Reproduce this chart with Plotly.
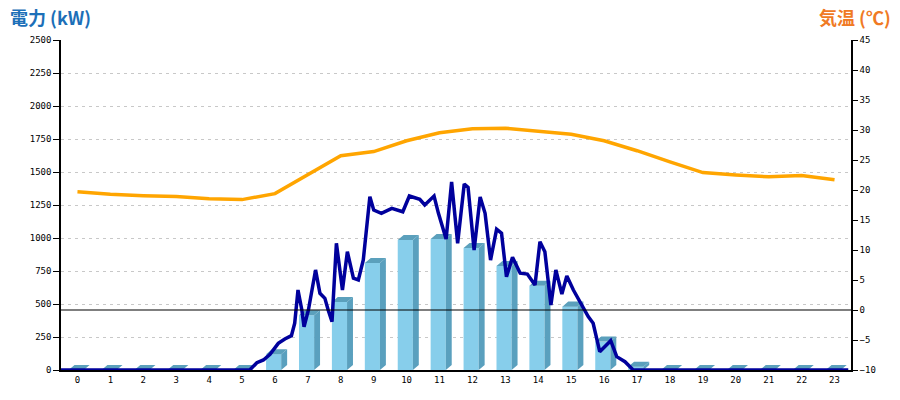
import plotly.graph_objects as go

# ---- data ----
hours = list(range(24))
hour_labels = [str(h) for h in hours]

# hourly generation (bars, left axis, kW)
bar_kw = [0, 0, 0, 0, 0, 0, 120, 414, 515, 811, 985, 992,
          924, 788, 639, 480, 215, 25, 0, 0, 0, 0, 0, 0]

# hourly temperature (orange line, right axis, degC)
temp_c = [19.7, 19.3, 19.05, 18.9, 18.55, 18.4, 19.4, 22.5, 25.7, 26.4, 28.2, 29.55,
          30.2, 30.3, 29.8, 29.3, 28.2, 26.55, 24.7, 22.9, 22.5, 22.2, 22.4, 21.7]

# instantaneous power (dark blue line), minutes since midnight and kW
power_min = [0, 344, 357, 369, 381, 396, 408, 420, 426, 432, 439, 443, 451, 464, 472,
             481, 487, 494, 502, 513, 522, 533, 542, 551, 563, 570, 584, 603, 623, 635,
             654, 663, 680, 688, 702, 712, 723, 735, 742, 753, 764, 773, 783, 794, 803,
             812, 823, 837, 850, 864, 873, 882, 893, 902, 913, 922, 934, 949, 961, 970,
             982, 1002, 1013, 1028, 1043, 1435]
power_kw = [0, 0, 55, 76, 119, 202, 235, 260, 354, 606, 455, 328, 455, 758, 581,
            543, 455, 366, 960, 606, 896, 695, 682, 833, 1313, 1212, 1187, 1225, 1199, 1318,
            1293, 1250, 1318, 1187, 992, 1424, 960, 1409, 1383, 909, 1311, 1187, 833, 1066, 1036,
            707, 854, 733, 727, 644, 972, 896, 492, 758, 576, 712, 606, 492, 404, 354,
            139, 222, 101, 63, 0, 0]

# ---- styling constants ----
FRONT = "#87CEEB"
SIDE = "#5AA0BE"
TOP = "#5BA0BC"
F_L, F_R, DEPTH_X, DEPTH_Y = -0.27, 0.19, 0.18, 38.0

side_x, side_y, top_x, top_y = [], [], [], []
for h, v in zip(hours, bar_kw):
    side_x += [h + F_R, h + F_R + DEPTH_X, h + F_R + DEPTH_X, h + F_R, h + F_R, None]
    side_y += [0, DEPTH_Y, v + DEPTH_Y, v, 0, None]
    top_x += [h + F_L, h + F_R, h + F_R + DEPTH_X, h + F_L + DEPTH_X, h + F_L, None]
    top_y += [v, v, v + DEPTH_Y, v + DEPTH_Y, v, None]

fig = go.Figure()
fig.add_trace(go.Bar(x=hours, y=bar_kw, width=F_R - F_L, offset=F_L,
                     marker=dict(color=FRONT, line=dict(width=0)), yaxis="y"))
fig.add_trace(go.Scatter(x=side_x, y=side_y, mode="lines", fill="toself",
                         fillcolor=SIDE, line=dict(width=0, color=SIDE), yaxis="y"))
fig.add_trace(go.Scatter(x=top_x, y=top_y, mode="lines", fill="toself",
                         fillcolor=TOP, line=dict(width=0, color=TOP), yaxis="y"))
fig.add_trace(go.Scatter(x=hours, y=temp_c, mode="lines",
                         line=dict(color="#FFA500", width=3.5), yaxis="y2"))
fig.add_trace(go.Scatter(x=[-0.5, 23.5], y=[0, 0], mode="lines",
                         line=dict(color="black", width=1.2), yaxis="y2"))
fig.add_trace(go.Scatter(x=[m / 60 - 0.5 for m in power_min], y=power_kw, mode="lines",
                         line=dict(color="#00009C", width=3.5), yaxis="y"))

tickfont = dict(family="DejaVu Sans Mono", size=9, color="black")
fig.update_layout(
    width=900, height=400,
    margin=dict(l=61, r=49, t=40, b=30),
    paper_bgcolor="white", plot_bgcolor="white",
    showlegend=False,
    hovermode=False,
    xaxis=dict(range=[-0.5, 23.5], tickmode="array", tickvals=hours, ticktext=hour_labels,
               showline=True, linecolor="black", linewidth=1.5, ticks="",
               showgrid=False, zeroline=False, tickfont=tickfont),
    yaxis=dict(range=[0, 2500], dtick=250, showline=True, linecolor="black", linewidth=1.5,
               ticks="outside", ticklen=6, tickcolor="black", showgrid=True,
               gridcolor="#C8C8C8", griddash="3px,4px", zeroline=False, tickfont=tickfont),
    yaxis2=dict(range=[-10, 45], dtick=5, overlaying="y", side="right", showline=True,
                linecolor="black", linewidth=1.5, ticks="outside", ticklen=5,
                tickcolor="black", showgrid=False, zeroline=False, tickfont=tickfont),
    annotations=[
        dict(text="<b>電力 (kW)</b>", xref="paper", yref="paper", x=0, y=1,
             xanchor="left", yanchor="middle", xshift=-53, yshift=23, showarrow=False,
             font=dict(family="Noto Sans CJK JP", size=18, color="#1C6FB8")),
        dict(text="<b>気温 (℃)</b>", xref="paper", yref="paper", x=1, y=1,
             xanchor="right", yanchor="middle", xshift=42, yshift=23, showarrow=False,
             font=dict(family="Noto Sans CJK JP", size=18, color="#F07A24")),
    ],
)

fig.write_html("out.html", config={"displayModeBar": False},
               post_script="document.body.style.margin='0';document.body.style.overflow='hidden';")
